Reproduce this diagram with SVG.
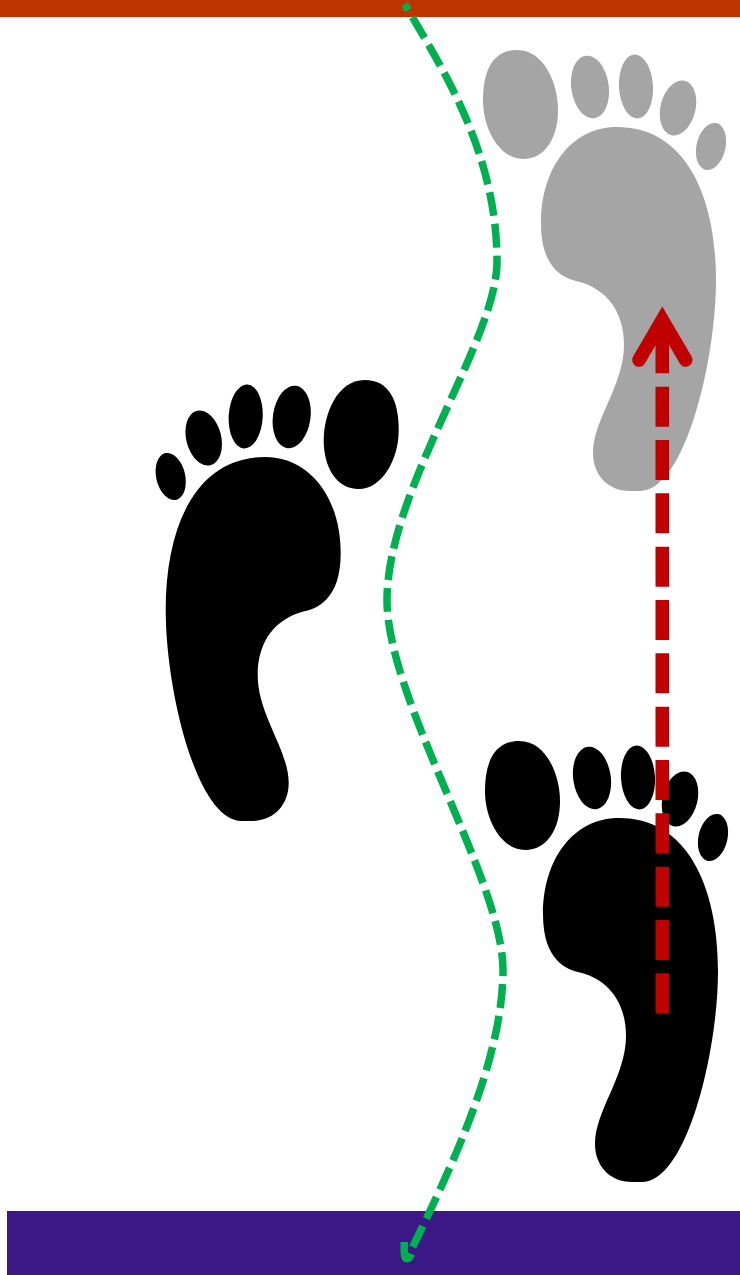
<svg xmlns="http://www.w3.org/2000/svg" width="740" height="1275" viewBox="0 0 740 1275">
<style>
.green{fill:none;stroke:#00B050;stroke-width:7.5}
.red{fill:none;stroke:#C00000;stroke-width:13.6}
</style>
<defs>
<g id="foot">
<path d="M617 127C685 127 716 195 716 280C716 360 685 491 640 491L630 491C608 491 593 475 593 453C593 420 624 385 624 345C624 310 605 289 580 282C565 279 541 270 541 223C541 170 570 127 617 127Z"/>
<path d="M517 50C545 50 558 85 558 110C558 138 545 159 523 159C500 159 483 130 483 100C483 70 493 50 517 50Z"/>
<ellipse cx="590" cy="87" rx="18.8" ry="31.5" transform="rotate(-8 590 87)"/>
<ellipse cx="636" cy="86.5" rx="17" ry="32" transform="rotate(-3 636 86.5)"/>
<ellipse cx="678" cy="108" rx="17.5" ry="28" transform="rotate(14 678 108)"/>
<ellipse cx="711" cy="146.5" rx="14.5" ry="24" transform="rotate(13 711 146.5)"/>
</g>
</defs>
<rect id="top-bar" x="0" y="0" width="740" height="17" fill="#BF3300"/>
<rect id="bottom-bar" x="7" y="1211" width="733" height="64" fill="#3C1786"/>
<g id="foot-grey" fill="#A5A5A5"><use href="#foot"/></g>
<g id="foot-left" fill="#000"><use href="#foot" transform="translate(881.7 330) scale(-1 1)"/></g>
<g id="foot-right" fill="#000"><use href="#foot" transform="translate(2 691)"/></g>
<g id="connectors">
<path class="green" stroke-dasharray="24 8" stroke-dashoffset="16.5" d="M404.7 4C440 65 497 150 497 262C497 340 387 490 387 600C387 700 503 880 503 970C503 1060 450 1170 412.7 1247"/>
<path class="green" d="M404.2 1242L404.2 1252C404.2 1261 409 1260 411.5 1254"/>
<path class="red" stroke-dasharray="40 13.33" d="M662.3 1013.3L662.3 325"/>
<path class="red" stroke-linecap="round" stroke-linejoin="miter" d="M639 360L662.3 320L685.7 360"/>
</g>
</svg>
